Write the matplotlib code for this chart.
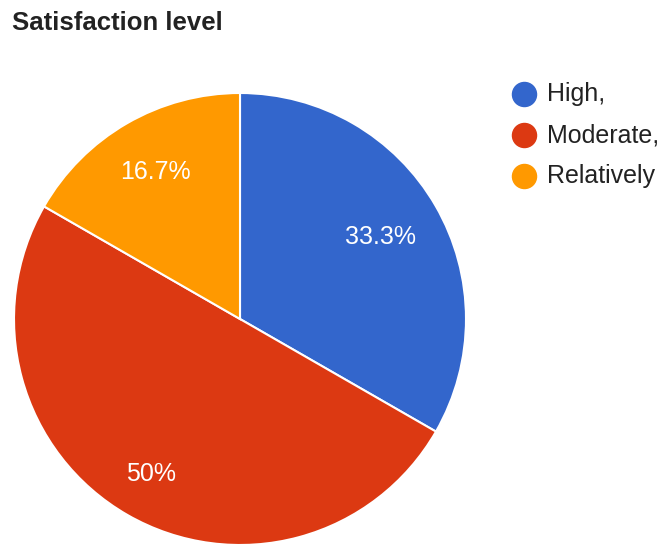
import matplotlib.pyplot as plt
import numpy as np

# data
labels = ["High,", "Moderate,", "Relatively"]
values = [33.3, 50.0, 16.7]
pct_text = ["33.3%", "50%", "16.7%"]
colors = ["#3366cc", "#dc3912", "#ff9900"]

plt.rcParams['font.family'] = ['Liberation Sans', 'DejaVu Sans']

W, H = 661, 546
fig = plt.figure(figsize=(W / 100, H / 100), dpi=100)

# pie axes: centre at (240, 319) px from top-left, radius 226 px
cx, cy, r = 240, 319, 226
ax = fig.add_axes([(cx - r) / W, (H - cy - r) / H, 2 * r / W, 2 * r / H])
wedges, _ = ax.pie(values, colors=colors, startangle=90, counterclock=False,
                   radius=1.0, wedgeprops=dict(edgecolor="white", linewidth=1.5))
ax.set_xlim(-1, 1)
ax.set_ylim(-1, 1)
ax.set_aspect("equal")
ax.axis("off")

# percentage labels, Google-charts style placement
dists = [0.72, 0.79, 0.75]
for w, t, d in zip(wedges, pct_text, dists):
    ang = np.deg2rad((w.theta1 + w.theta2) / 2)
    ax.text(d * np.cos(ang), d * np.sin(ang), t, color="white", fontsize=18,
            ha="center", va="center")

# overlay in pixel coords for title + legend
ov = fig.add_axes([0, 0, 1, 1])
ov.set_xlim(0, W)
ov.set_ylim(H, 0)
ov.axis("off")
ov.text(12, 23, "Satisfaction level", fontsize=18.5, fontweight="bold",
        color="#222222", ha="left", va="center")

for i, (lab, c) in enumerate(zip(labels, colors)):
    y = 94 + i * 41
    ov.scatter([524], [y], s=300, color=c, zorder=3)
    ov.text(547, y, lab, fontsize=18, color="#222222", ha="left", va="center")

fig.savefig("out.png", dpi=100)
